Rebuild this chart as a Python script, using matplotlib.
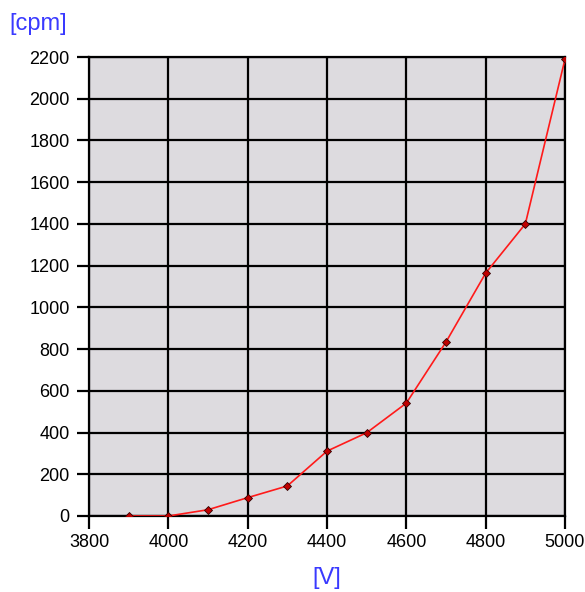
import numpy as np
import matplotlib.pyplot as plt

# measured counts vs tube voltage
volts = [3900, 4000, 4100, 4200, 4300, 4400, 4500, 4600, 4700, 4800, 4900, 5000]
cpm = [0, 0, 30, 88, 144, 311, 399, 541, 834, 1164, 1400, 2190]

xticks = np.arange(3800, 5001, 200)
yticks = np.arange(0, 2201, 200)

plt.rcParams['font.family'] = ['Liberation Sans', 'DejaVu Sans']

fig = plt.figure(figsize=(5.85, 5.92), dpi=100)
ax = fig.add_axes([89 / 585, 1 - 516 / 592, 476 / 585, 459 / 592])

ax.set_facecolor('#dddbdf')
ax.plot(volts, cpm, color='#ff1a1a', lw=1.2, zorder=3)
ax.plot(volts, cpm, ls='none', marker='D', ms=4.5, mfc='#c00000', mec='#300000', mew=0.6, zorder=4)

ax.set_xlim(3800, 5000)
ax.set_ylim(0, 2200)
ax.set_xticks(xticks)
ax.set_yticks(yticks)
ax.grid(True, color='black', lw=1.6)
ax.set_axisbelow(True)
for s in ax.spines.values():
    s.set_color('black')
    s.set_linewidth(1.6)

ax.tick_params(axis='both', direction='out', length=9, width=1.6, labelsize=13, pad=4)
ax.tick_params(axis='y', pad=5)

fig.text(9 / 585, 1 - 24 / 592, '[cpm]', color='#3a3aff', fontsize=17, va='center', ha='left')
fig.text(327 / 585, 1 - 578 / 592, '[V]', color='#3a3aff', fontsize=17, va='center', ha='center')

fig.savefig('out.png', dpi=100)
